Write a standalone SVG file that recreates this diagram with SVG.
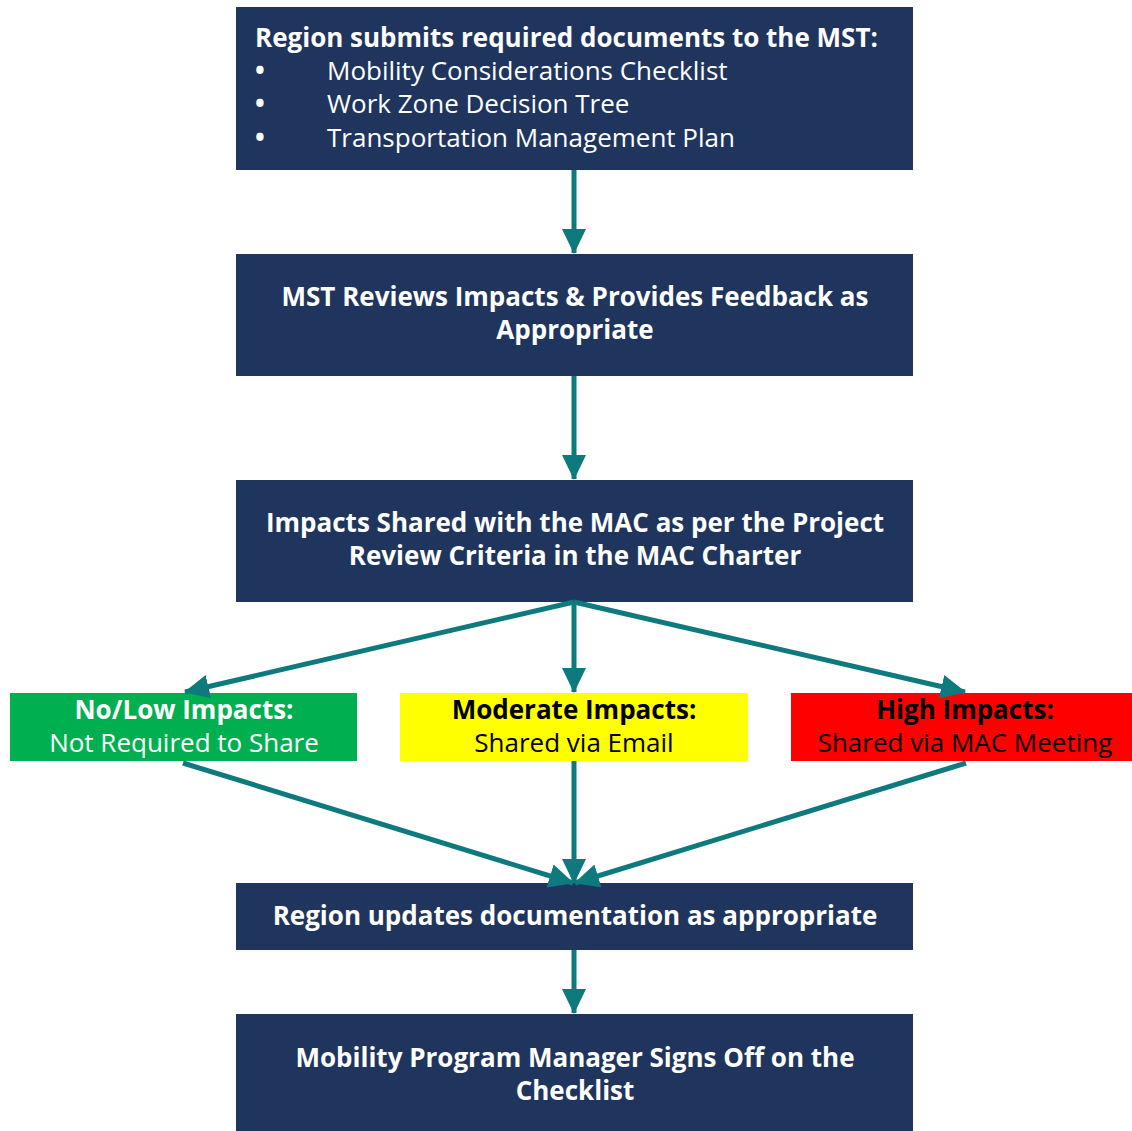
<svg xmlns="http://www.w3.org/2000/svg" width="1132" height="1131" viewBox="0 0 1132 1131">
<defs>
<style>
.box{fill:#1F355E;}
.t{font-family:"Open Sans","Noto Sans","Liberation Sans",sans-serif;font-size:26px;fill:#FFFFFF;}
.b{font-weight:bold;}
.c{text-anchor:middle;}
.k{fill:#000000;}
.conn line{stroke:#0E7A7E;stroke-width:5;marker-end:url(#ah);}
</style>
<marker id="ah" markerUnits="userSpaceOnUse" markerWidth="26" markerHeight="26" viewBox="0 0 26 26" refX="24" refY="13" orient="auto">
<path d="M0,1 L25,13 L0,25 Z" fill="#0E7A7E"/>
</marker>
</defs>
<rect width="1132" height="1131" fill="#FFFFFF"/>
<g id="n1">
<rect class="box" x="236" y="7" width="677" height="163"/>
<text class="t b" x="255" y="47">Region submits required documents to the MST:</text>
<text class="t b" x="255" y="80">•</text><text class="t" x="327" y="80">Mobility Considerations Checklist</text>
<text class="t b" x="255" y="113">•</text><text class="t" x="327" y="113">Work Zone Decision Tree</text>
<text class="t b" x="255" y="147">•</text><text class="t" x="327" y="147">Transportation Management Plan</text>
</g>
<g id="n2">
<rect class="box" x="236" y="254" width="677" height="122"/>
<text class="t b c" x="575" y="306">MST Reviews Impacts &amp; Provides Feedback as</text>
<text class="t b c" x="575" y="339">Appropriate</text>
</g>
<g id="n3">
<rect class="box" x="236" y="480" width="677" height="122"/>
<text class="t b c" x="575" y="532">Impacts Shared with the MAC as per the Project</text>
<text class="t b c" x="575" y="565">Review Criteria in the MAC Charter</text>
</g>
<g id="n4">
<rect x="10" y="693" width="347" height="68" fill="#00B050"/>
<text class="t b c" x="184" y="719">No/Low Impacts:</text>
<text class="t c" x="184" y="752">Not Required to Share</text>
</g>
<g id="n5">
<rect x="400" y="693" width="348" height="68" fill="#FFFF00"/>
<text class="t b c k" x="574" y="719">Moderate Impacts:</text>
<text class="t c k" x="574" y="752">Shared via Email</text>
</g>
<g id="n6">
<rect x="791" y="693" width="341" height="68" fill="#FF0000"/>
<text class="t b c k" x="965" y="719">High Impacts:</text>
<text class="t c k" x="965" y="752">Shared via MAC Meeting</text>
</g>
<g id="n7">
<rect class="box" x="236" y="883" width="677" height="67"/>
<text class="t b c" x="575" y="925">Region updates documentation as appropriate</text>
</g>
<g id="n8">
<rect class="box" x="236" y="1014" width="677" height="117"/>
<text class="t b c" x="575" y="1067">Mobility Program Manager Signs Off on the</text>
<text class="t b c" x="575" y="1100">Checklist</text>
</g>
<g id="connectors" class="conn">
<line x1="574" y1="170" x2="574" y2="253"/>
<line x1="574" y1="376" x2="574" y2="479"/>
<line x1="574" y1="602" x2="574" y2="692"/>
<line x1="574" y1="602" x2="185" y2="692"/>
<line x1="574" y1="602" x2="965" y2="692"/>
<line x1="183" y1="763" x2="573" y2="883"/>
<line x1="574" y1="761" x2="574" y2="883"/>
<line x1="966" y1="763" x2="575" y2="883"/>
<line x1="574" y1="950" x2="574" y2="1013"/>
</g>
</svg>
